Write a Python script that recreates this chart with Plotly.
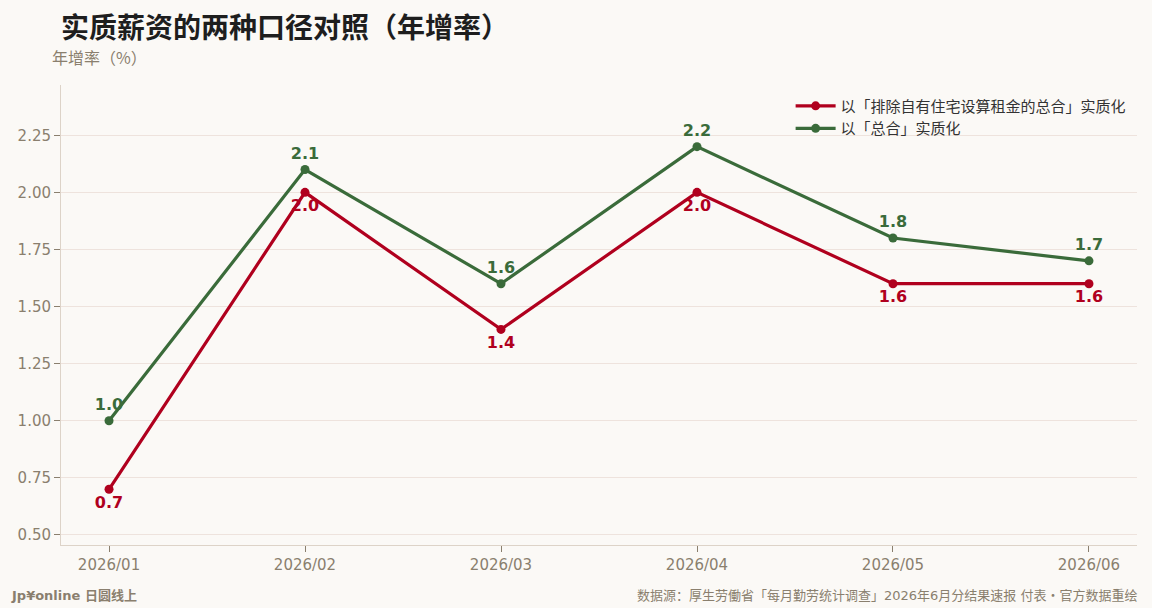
import plotly.graph_objects as go

months = ["2026/01", "2026/02", "2026/03", "2026/04", "2026/05", "2026/06"]
excl_rent = [0.7, 2.0, 1.4, 2.0, 1.6, 1.6]
total = [1.0, 2.1, 1.6, 2.2, 1.8, 1.7]
name_excl = "以「排除自有住宅设算租金的总合」实质化"
name_total = "以「总合」实质化"
y_ticks = [0.5, 0.75, 1.0, 1.25, 1.5, 1.75, 2.0, 2.25]

RED = "#B0001E"
GREEN = "#3A6B3A"
BG = "#FBF9F6"
GRID = "#EEE3DD"
AX = "#8A7F6E"

fig = go.Figure()
fig.add_trace(go.Scatter(
    x=months, y=excl_rent, name=name_excl, mode="lines+markers+text",
    line=dict(color=RED, width=3.2), marker=dict(size=9, color=RED),
    text=[f"{v:.1f}" for v in excl_rent], textposition="bottom center",
    textfont=dict(family="DejaVu Sans", size=16, color=RED, weight="bold"),
))
fig.add_trace(go.Scatter(
    x=months, y=total, name=name_total, mode="lines+markers+text",
    line=dict(color=GREEN, width=3.2), marker=dict(size=9, color=GREEN),
    text=[f"{v:.1f}" for v in total], textposition="top center",
    textfont=dict(family="DejaVu Sans", size=16, color=GREEN, weight="bold"),
))

fig.update_layout(
    width=1152, height=608,
    paper_bgcolor=BG, plot_bgcolor=BG,
    margin=dict(l=61, r=15, t=85, b=63),
    font=dict(family="DejaVu Sans, Noto Sans CJK SC", color=AX, size=13),
    title=dict(text="实质薪资的两种口径对照（年增率）", x=0.053, xanchor="left", y=0.953, yanchor="middle",
               font=dict(family="Noto Sans CJK SC", size=28, color="#1E1E1E", weight="bold")),
    showlegend=True,
    legend=dict(x=0.995, y=0.99, xanchor="right", yanchor="top", bgcolor="rgba(0,0,0,0)",
                font=dict(family="Noto Sans CJK SC", size=15, color="#333333"),
                tracegroupgap=0, itemwidth=40),
    xaxis=dict(type="category", range=[-0.245, 5.245], showgrid=False,
               showline=True, linecolor="#DDD3C8", linewidth=1,
               ticks="outside", ticklen=6, tickcolor=AX,
               tickfont=dict(family="DejaVu Sans", size=15, color=AX)),
    yaxis=dict(range=[0.456, 2.47], tickvals=y_ticks, tickformat=".2f",
               showgrid=True, gridcolor=GRID, gridwidth=1, zeroline=False,
               showline=True, linecolor="#DDD3C8", linewidth=1,
               ticks="outside", ticklen=6, tickcolor=AX,
               tickfont=dict(family="DejaVu Sans", size=15, color=AX)),
    annotations=[
        dict(text="年增率（%）", xref="paper", yref="paper", x=0, y=1.03, xanchor="left", yanchor="bottom",
             showarrow=False, font=dict(family="Noto Sans CJK SC", size=16, color=AX), xshift=-11),
        dict(text="<b>Jp¥online 日圆线上</b>", xref="paper", yref="paper", x=0, y=0, xshift=-52, yshift=-50,
             xanchor="left", yanchor="middle", showarrow=False,
             font=dict(family="DejaVu Sans, Noto Sans CJK SC", size=13, color=AX)),
        dict(text="数据源：厚生劳働省「每月勤劳统计调查」2026年6月分结果速报 付表・官方数据重绘", xref="paper", yref="paper",
             x=1, y=0, xshift=3, yshift=-50, xanchor="right", yanchor="middle", showarrow=False,
             font=dict(family="DejaVu Sans, Noto Sans CJK SC", size=13, color=AX)),
    ],
)

fig.write_html("out.html", config={"displayModeBar": False},
               post_script="document.body.style.margin='0';document.body.style.overflow='hidden';")
